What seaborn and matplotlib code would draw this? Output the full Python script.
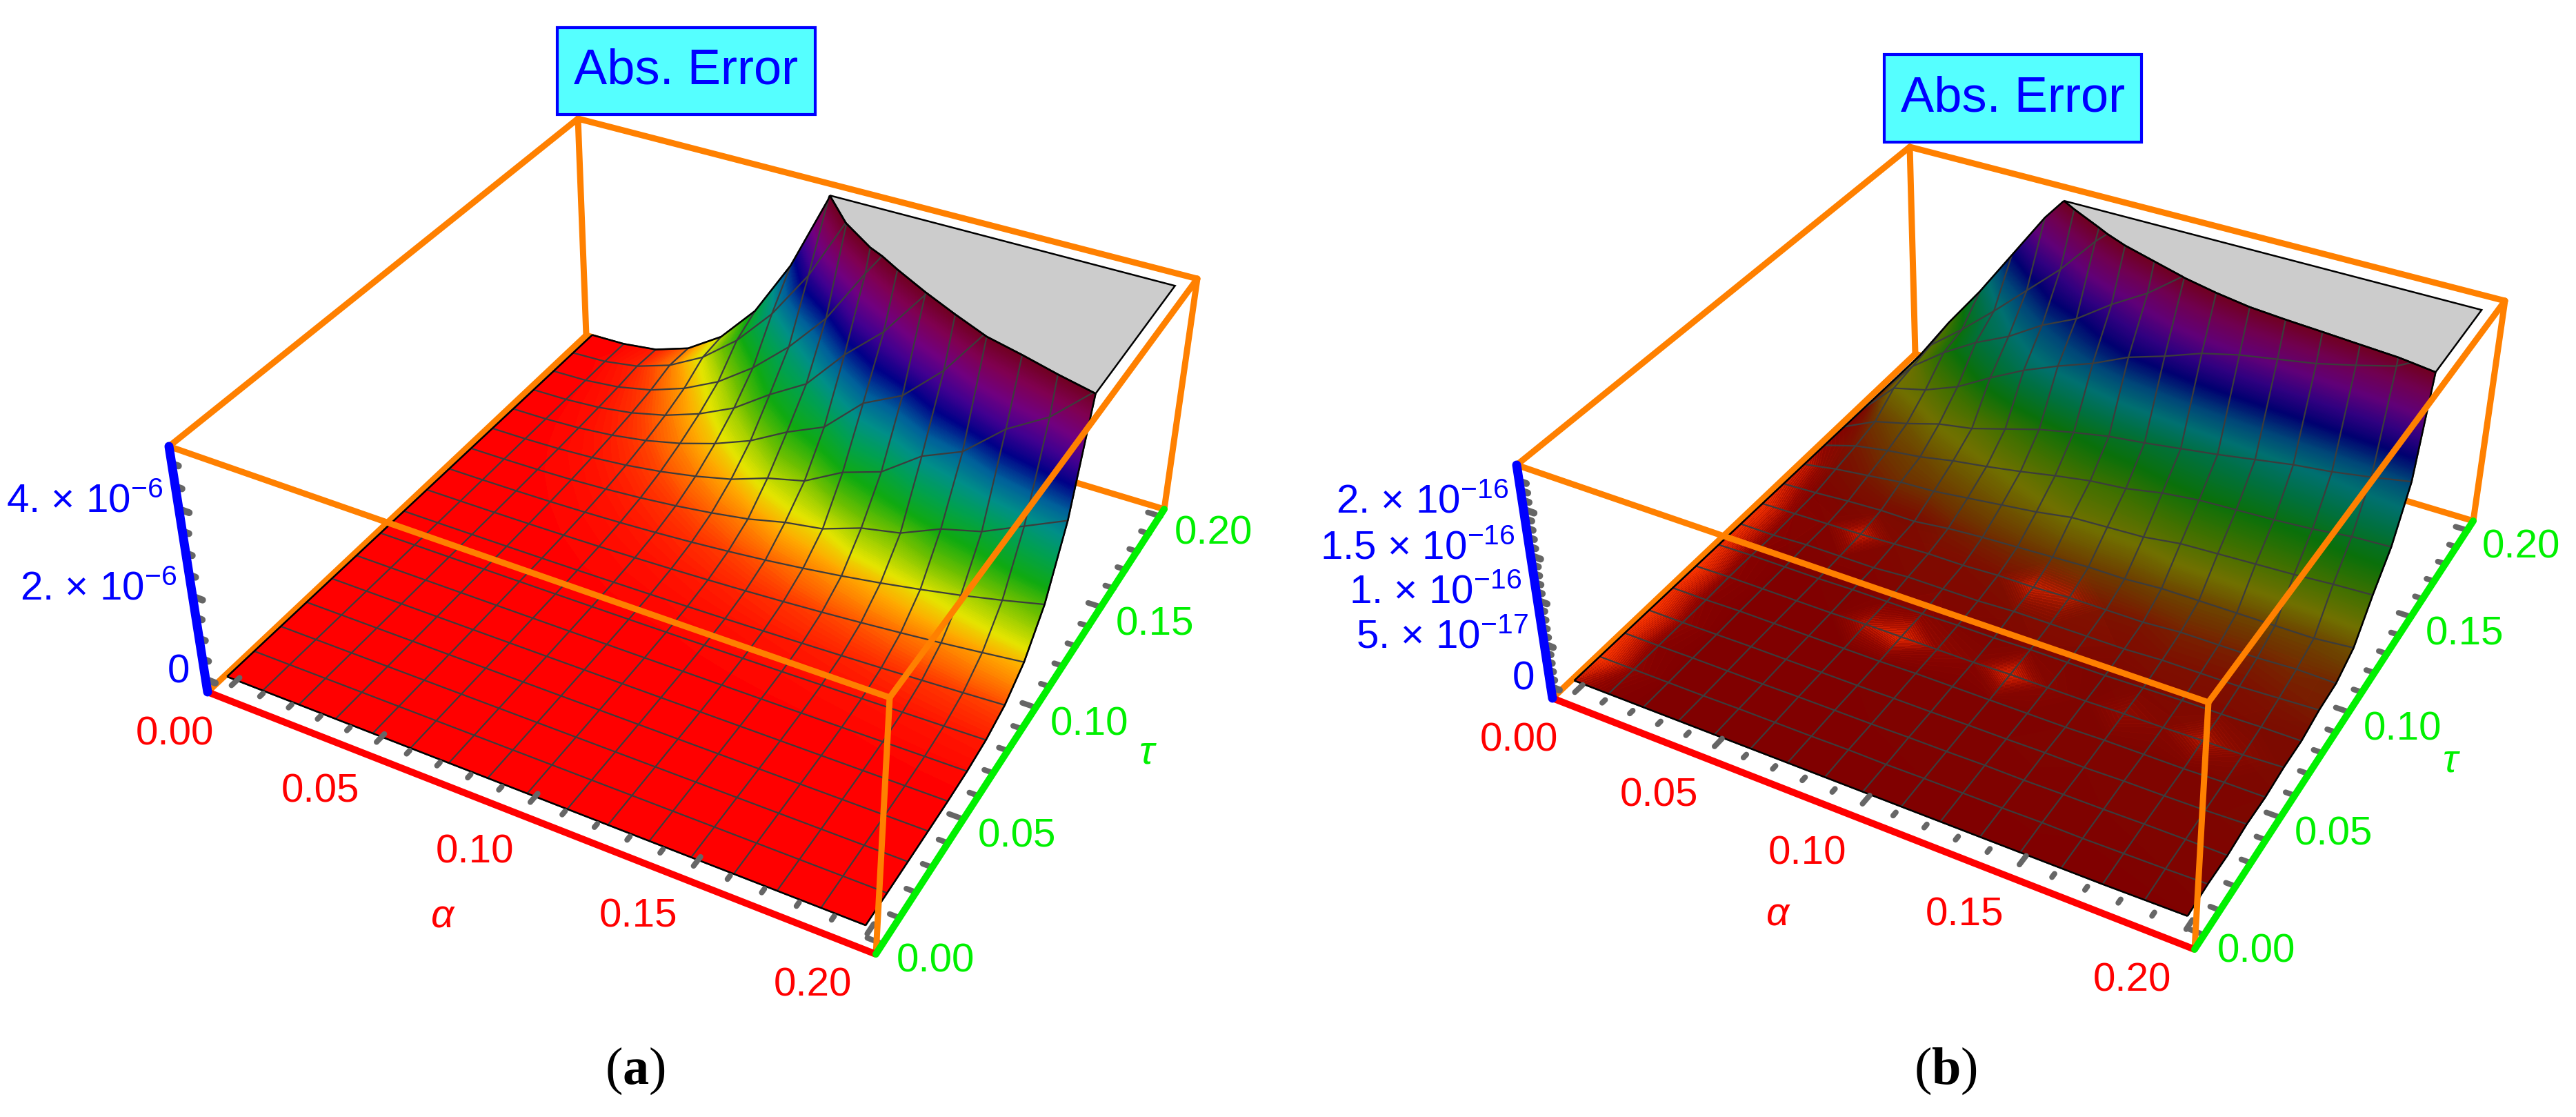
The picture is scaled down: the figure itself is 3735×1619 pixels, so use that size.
import numpy as np
import matplotlib
matplotlib.use("Agg")
import matplotlib.pyplot as plt
import seaborn as sns
from matplotlib.colors import LinearSegmentedColormap
from matplotlib.patches import Rectangle

# axis values (mesh has 16 cells each way)
alpha = np.arange(17) * 0.0125
tau = np.arange(17) * 0.0125

alpha_ticks = [0.00, 0.05, 0.10, 0.15, 0.20]
tau_ticks = [0.00, 0.05, 0.10, 0.15, 0.20]
alpha_labels = ["0.00", "0.05", "0.10", "0.15", "0.20"]
tau_labels = ["0.00", "0.05", "0.10", "0.15", "0.20"]

z_ticks_a = [0, 2, 4]
z_labels_a = ["0", "2. × 10$^{-6}$", "4. × 10$^{-6}$"]
z_ticks_b = [0, 0.5, 1, 1.5, 2]
z_labels_b = ["0", "5. × 10$^{-17}$", "1. × 10$^{-16}$", "1.5 × 10$^{-16}$", "2. × 10$^{-16}$"]

# abs. error read off the surfaces, rows = tau, columns = alpha
# panel a in units of 1e-6, the part above 5.2 leaves the box
error_a = np.array([
    [0, 0, 0, 0, 0, 0, 0, 0, 0, 0, 0, 0, 0, 0, 0, 0, 0],
    [0, 0, 0, 0, 0, 0, 0, 0, 0, 0, 0, 0, 0, 0, 0, 0, 0],
    [0, 0, 0, 0, 0, 0, 0, 0, 0, 0, 0, 0, 0, 0, 0, 0, 0],
    [0, 0, 0, 0, 0, 0, 0, 0, 0, 0, 0, 0, 0, 0, 0.001, 0.001, 0.002],
    [0, 0, 0, 0, 0, 0, 0, 0.001, 0.001, 0.002, 0.002, 0.003, 0.004, 0.005, 0.006, 0.008, 0.009],
    [0, 0, 0, 0.001, 0.001, 0.002, 0.003, 0.005, 0.006, 0.009, 0.011, 0.014, 0.018, 0.021, 0.026, 0.031, 0.036],
    [0, 0, 0.001, 0.002, 0.004, 0.006, 0.01, 0.014, 0.02, 0.027, 0.035, 0.045, 0.056, 0.068, 0.082, 0.097, 0.114],
    [0, 0, 0.002, 0.005, 0.009, 0.016, 0.026, 0.038, 0.053, 0.071, 0.093, 0.118, 0.146, 0.179, 0.215, 0.255, 0.30],
    [0, 0.001, 0.004, 0.011, 0.022, 0.038, 0.06, 0.089, 0.124, 0.166, 0.216, 0.274, 0.341, 0.417, 0.50, 0.596, 0.70],
    [0, 0.001, 0.008, 0.022, 0.046, 0.08, 0.127, 0.186, 0.26, 0.348, 0.454, 0.576, 0.716, 0.875, 1.05, 1.25, 1.47],
    [0, 0.003, 0.016, 0.043, 0.089, 0.156, 0.246, 0.362, 0.506, 0.72, 0.86, 1.18, 1.36, 1.76, 2.00, 2.43, 2.86],
    [0, 0.005, 0.029, 0.08, 0.164, 0.287, 0.452, 0.665, 0.98, 1.20, 1.70, 2.00, 2.66, 3.05, 3.85, 4.40, 5.25],
    [0, 0.008, 0.048, 0.133, 0.272, 0.477, 0.752, 1.105, 1.60, 2.00, 2.85, 3.30, 4.15, 5.3, 6.0, 7.44, 8.74],
    [0, 0.013, 0.073, 0.2, 0.41, 0.72, 1.14, 1.75, 2.28, 3.25, 4.05, 5.15, 6.45, 7.9, 9.5, 11.3, 13.3],
    [0, 0.019, 0.107, 0.294, 0.603, 1.04, 1.66, 2.44, 3.39, 4.7, 5.91, 7.5, 9.3, 11, 13, 15, 17],
    [0, 0.029, 0.163, 0.448, 0.92, 1.61, 2.53, 3.72, 5.25, 6.97, 9.1, 11, 14, 17, 20, 23, 26],
    [0, 0.015, 0.12, 0.41, 0.97, 1.89, 3.27, 5.1, 7.8, 11, 14, 18, 22, 26, 30, 35, 40],
])

# panel b in units of 1e-16, the part above 2.4 leaves the box
error_b = np.array([
    [0, 0, 0, 0, 0, 0, 0, 0, 0, 0, 0, 0, 0, 0, 0, 0.005, 0.01],
    [0, 0, 0, 0, 0.005, 0.005, 0.005, 0.01, 0.005, 0.01, 0.01, 0.01, 0.015, 0.01, 0.015, 0.02, 0.03],
    [0, 0, 0.005, 0.005, 0.005, 0.01, 0.01, 0.01, 0.015, 0.015, 0.02, 0.015, 0.02, 0.02, 0.025, 0.025, 0.02],
    [0, 0, 0.005, 0.01, 0.01, 0.01, 0.01, 0.015, 0.015, 0.02, 0.02, 0.025, 0.02, 0.03, 0.03, 0.035, 0.05],
    [0, 0, 0.01, 0.01, 0.01, 0.01, 0.01, 0.02, 0.02, 0.02, 0.02, 0.02, 0.03, 0.03, 0.03, 0.04, 0.04],
    [0, 0.01, 0.01, 0.01, 0.01, 0.02, 0.02, 0.02, 0.02, 0.03, 0.03, 0.03, 0.04, 0.04, 0.05, 0.05, 0.07],
    [0, 0.01, 0.01, 0.01, 0.02, 0.02, 0.02, 0.03, 0.03, 0.04, 0.04, 0.04, 0.05, 0.06, 0.06, 0.07, 0.07],
    [0, 0, 0.02, 0.02, 0.02, 0.05, 0.05, 0.05, 0.07, 0.07, 0.07, 0.07, 0.09, 0.09, 0.09, 0.11, 0.13],
    [0, 0.01, 0.02, 0.03, 0.05, 0.07, 0.07, 0.09, 0.09, 0.11, 0.11, 0.11, 0.14, 0.14, 0.14, 0.16, 0.15],
    [0, 0.02, 0.05, 0.07, 0.07, 0.12, 0.15, 0.17, 0.19, 0.21, 0.21, 0.24, 0.24, 0.24, 0.24, 0.24, 0.28],
    [0, 0.07, 0.12, 0.17, 0.19, 0.24, 0.29, 0.34, 0.41, 0.43, 0.45, 0.51, 0.53, 0.55, 0.57, 0.60, 0.62],
    [0, 0.12, 0.19, 0.24, 0.32, 0.38, 0.45, 0.53, 0.60, 0.64, 0.72, 0.77, 0.79, 0.81, 0.84, 0.89, 0.91],
    [0, 0.19, 0.29, 0.41, 0.48, 0.60, 0.72, 0.81, 0.89, 0.94, 1.00, 1.06, 1.13, 1.20, 1.25, 1.32, 1.40],
    [0, 0.38, 0.48, 0.64, 0.87, 1.08, 1.25, 1.40, 1.59, 1.72, 1.87, 1.97, 2.04, 2.11, 2.21, 2.32, 2.55],
    [0, 0.43, 0.72, 0.96, 1.15, 1.40, 1.59, 1.87, 2.11, 2.42, 2.64, 2.9, 3.1, 3.3, 3.5, 3.7, 3.9],
    [0, 0.48, 0.79, 1.13, 1.49, 1.85, 2.28, 2.64, 3.0, 3.3, 3.6, 3.9, 4.2, 4.5, 4.8, 5.1, 5.4],
    [0, 0.55, 1.05, 1.60, 2.15, 2.60, 2.9, 3.2, 3.5, 3.8, 4.0, 4.2, 4.4, 4.6, 4.8, 5.0, 5.2],
])

# bright patches on the floor of panel b (0 = none, 1 = strongest)
glare_b = np.array([
    [0.5, 0.1, 0, 0, 0, 0, 0, 0, 0, 0, 0, 0, 0, 0, 0, 0, 0],
    [1.0, 0.25, 0, 0, 0, 0, 0, 0, 0, 0, 0, 0, 0, 0, 0, 0, 0],
    [0.9, 0.15, 0, 0, 0, 0, 0, 0, 0, 0, 0, 0, 0, 0, 0, 0, 0],
    [1.0, 0.25, 0, 0, 0, 0, 0, 0, 0, 0, 0, 0, 0, 0, 0, 0, 0],
    [0.9, 0.15, 0, 0, 0, 0, 0, 0, 0, 0, 0, 0, 0, 0, 0, 0, 0],
    [1.0, 0.2, 0, 0, 0, 0.5, 0.75, 0.3, 0.15, 0.7, 0.15, 0, 0.3, 0.15, 0.5, 0.2, 0],
    [0.9, 0.15, 0, 0, 0, 0.1, 0.2, 0.05, 0, 0.1, 0.05, 0, 0.05, 0.05, 0.1, 0, 0],
    [0.9, 0.2, 0.05, 0.1, 0.1, 0.1, 0.1, 0.1, 0.1, 0.15, 0.15, 0.1, 0.1, 0.1, 0.1, 0.1, 0.05],
    [0.9, 0.15, 0.1, 0.6, 0.1, 0.1, 0.1, 0.1, 0.6, 0.5, 0.1, 0.1, 0.1, 0.1, 0.1, 0.1, 0.05],
    [0.7, 0.05, 0, 0, 0, 0, 0, 0, 0, 0, 0, 0, 0, 0, 0, 0, 0],
    [0.6, 0, 0, 0, 0, 0, 0, 0, 0, 0, 0, 0, 0, 0, 0, 0, 0],
    [0.3, 0, 0, 0, 0, 0, 0, 0, 0, 0, 0, 0, 0, 0, 0, 0, 0],
    [0.1, 0, 0, 0, 0, 0, 0, 0, 0, 0, 0, 0, 0, 0, 0, 0, 0],
    [0, 0, 0, 0, 0, 0, 0, 0, 0, 0, 0, 0, 0, 0, 0, 0, 0],
    [0, 0, 0, 0, 0, 0, 0, 0, 0, 0, 0, 0, 0, 0, 0, 0, 0],
    [0, 0, 0, 0, 0, 0, 0, 0, 0, 0, 0, 0, 0, 0, 0, 0, 0],
    [0, 0, 0, 0, 0, 0, 0, 0, 0, 0, 0, 0, 0, 0, 0, 0, 0],
])

ORANGE = "#ff8000"
RED = "#ff0000"
GREEN = "#00f000"
BLUE = "#0000ff"
TICK_GREY = "#666666"
MESH = "#3c3c3c"

hue_stops = [0, 0.04, 0.08, 0.12, 0.167, 0.25, 0.33, 0.42, 0.5, 0.58, 0.67, 0.75, 0.83, 0.92, 1]
colors_a = ["#ff0000", "#ff3000", "#ff7000", "#ffa800", "#e4e400", "#70c000", "#10aa10", "#00a050",
            "#008f88", "#00609a", "#000088", "#400090", "#700080", "#800050", "#700020"]
colors_b = ["#800000", "#7a1000", "#6e3600", "#6e5200", "#707000", "#3f7000", "#0a700a", "#007040",
            "#007070", "#004878", "#000070", "#300080", "#600078", "#700050", "#700020"]
cmap_a = LinearSegmentedColormap.from_list("hue_a", list(zip(hue_stops, colors_a)), N=512)
cmap_b = LinearSegmentedColormap.from_list("hue_b", list(zip(hue_stops, colors_b)), N=512)
cmap_glare = LinearSegmentedColormap.from_list(
    "glare", [(0, (0.95, 0.15, 0, 0)), (0.3, (0.95, 0.15, 0, 0.12)), (1, (1, 0.22, 0, 0.95))], N=64)

# box corner order: (u, v, w) unit cube
UNIT_CORNERS = [(0, 0, 0), (1, 0, 0), (1, 1, 0), (0, 1, 0), (0, 0, 1), (1, 0, 1), (1, 1, 1), (0, 1, 1)]
PAD_U = 0.023


def fit_camera(corners):
    rows = []
    for (u, v, w), (x, y) in zip(UNIT_CORNERS, corners):
        x, y = x / 1000, y / 1000
        rows.append([u, v, w, 1, 0, 0, 0, 0, -x * u, -x * v, -x * w, -x])
        rows.append([0, 0, 0, 0, u, v, w, 1, -y * u, -y * v, -y * w, -y])
    return np.linalg.svd(np.array(rows))[2][-1].reshape(3, 4)


def edge(ax, points, color, width, order, cap="round"):
    # width given in px of the final picture
    pts = np.array(points)
    sns.lineplot(x=pts[:, 0], y=pts[:, 1], sort=False, estimator=None, color=color,
                 linewidth=width * 0.72, zorder=order, solid_capstyle=cap, ax=ax, legend=False)


def draw_panel(ax, corners, error, cmap, z_top, w0, pad_v, z_ticks, z_labels, z_minor, title_box, caption,
               caption_x, alpha_off, tau_off, glare=None):
    cam = fit_camera(corners)
    w1 = 0.975

    def to_box(a, t, z):
        u = PAD_U + (1 - 2 * PAD_U) * np.asarray(a, float) / 0.2
        v = pad_v + (1 - 2 * pad_v) * np.asarray(t, float) / 0.2
        w = w0 + (w1 - w0) * np.asarray(z, float) / z_top
        return u, v, w

    def from_box(u, v, w):
        u, v, w = np.broadcast_arrays(u, v, w)
        h = cam @ np.stack([u.ravel(), v.ravel(), w.ravel(), np.ones(u.size)])
        return (h[0] / h[2] * 1000).reshape(u.shape), (h[1] / h[2] * 1000).reshape(u.shape)

    def project(a, t, z):
        return from_box(*to_box(a, t, z))

    def mesh_line(a, t, z, color, lw, order):
        # stop the line where it reaches the top of the box
        a, t, z = [np.broadcast_to(q, (17,)).astype(float) for q in (a, t, z)]
        n = 17
        for k in range(1, 17):
            if z[k] > z_top:
                f = (z_top - z[k - 1]) / (z[k] - z[k - 1])
                a[k] = a[k - 1] + f * (a[k] - a[k - 1])
                t[k] = t[k - 1] + f * (t[k] - t[k - 1])
                z[k] = z_top
                n = k + 1
                break
        x, y = project(a[:n], t[:n], z[:n])
        ax.plot(x, y, color=color, lw=lw, zorder=order, solid_capstyle="butt")

    A, T = np.meshgrid(alpha, tau)
    X, Y = project(A, T, error)

    c = dict(zip("ABCDEFGH", np.array(corners, float)))
    # box edges behind the surface
    for p, q in ["HE", "HG", "HD", "DA", "DC"]:
        edge(ax, [c[p], c[q]], ORANGE, 9, 2)

    levels = np.linspace(0, z_top, 241)
    levels[0] = -z_top * 0.01
    ax.contourf(X, Y, error, levels=levels, cmap=cmap, vmin=0, vmax=z_top, antialiased=False, zorder=3)
    if glare is not None:
        ax.contourf(X, Y, glare, levels=np.linspace(0.03, 1, 25), cmap=cmap_glare, vmin=0, vmax=1,
                    antialiased=False, zorder=3.1)

    for k in range(17):
        mesh_line(alpha, tau[k], error[k, :], MESH, 1.6, 3.2)
        mesh_line(alpha[k], tau, error[:, k], MESH, 1.6, 3.2)

    # grey cap where the surface leaves the box
    ridge = ax.contour(X, Y, error, levels=[z_top], colors="black", linewidths=1.8, zorder=3.4)
    rim = max(ridge.get_paths()[0].to_polygons(closed_only=False), key=len)
    corner = np.column_stack(project(0.2, 0.2, z_top))
    cap = np.vstack([rim, corner])
    ax.fill(cap[:, 0], cap[:, 1], fc="#cccccc", ec="black", lw=1.8, zorder=3.3)

    mesh_line(alpha, tau[0], error[0, :], "black", 1.8, 3.4)
    mesh_line(alpha, tau[-1], error[-1, :], "black", 1.8, 3.4)
    mesh_line(alpha[0], tau, error[:, 0], "black", 1.8, 3.4)
    mesh_line(alpha[-1], tau, error[:, -1], "black", 1.8, 3.4)

    # box edges in front of the surface
    for p, q in ["EF", "FG", "FB", "GC"]:
        edge(ax, [c[p], c[q]], ORANGE, 9, 5)

    # tick marks
    for val in np.arange(0, 21) * 0.01:
        major = (round(val * 100) % 5) == 0
        u = to_box(val, 0, 0)[0]
        p = np.column_stack(from_box([u, u], [0.024, 0.042 if major else 0.031], [0, 0]))
        edge(ax, p, TICK_GREY, 8, 4)
        v = to_box(0, val, 0)[1]
        p = np.column_stack(from_box([1, 0.98 if major else 0.987], [v, v], [0, 0]))
        edge(ax, p, TICK_GREY, 8, 4)
    for val in z_minor:
        major = val in z_ticks
        w = to_box(0, 0, val)[2]
        p = np.column_stack(from_box([0, 0.017 if major else 0.011], [0, 0], [w, w]))
        edge(ax, p, TICK_GREY, 10, 4)

    # coloured axes
    edge(ax, [c["A"], c["B"]], RED, 10, 6, "butt")
    edge(ax, [c["B"], c["C"]], GREEN, 10, 6.1)
    edge(ax, [c["A"], c["E"]], BLUE, 13, 6.2)

    # tick labels
    font = {"fontsize": 42, "family": "Liberation Sans"}
    for val, lab in zip(alpha_ticks, alpha_labels):
        x, y = from_box(to_box(val, 0, 0)[0], 0, 0)
        ax.text(x - 66, y + 56, lab, color=RED, ha="center", va="center", **font)
    for val, lab in zip(tau_ticks, tau_labels):
        x, y = from_box(1, to_box(0, val, 0)[1], 0)
        ax.text(x + 77, y + 25, lab, color=GREEN, ha="center", va="center", **font)
    for val, lab in zip(z_ticks, z_labels):
        x, y = from_box(0, 0, to_box(0, 0, val)[2])
        ax.text(x - 22, y + 5, lab, color=BLUE, ha="right", va="baseline", **font)

    x, y = from_box(to_box(0.1, 0, 0)[0], 0, 0)
    ax.text(x + alpha_off[0], y + alpha_off[1], "α", color=RED, style="italic", ha="center", va="center", **font)
    x, y = from_box(1, to_box(0, 0.1, 0)[1], 0)
    ax.text(x + tau_off[0], y + tau_off[1], "τ", color=GREEN, style="italic", ha="center", va="center", **font)

    # title tag
    bx, by, bw, bh = title_box
    ax.add_patch(Rectangle((bx, by), bw, bh, fc="#55ffff", ec=BLUE, lw=3, zorder=7))
    ax.text(bx + bw / 2, by + bh / 2, "Abs. Error", color=BLUE, fontsize=52, family="Liberation Sans",
            ha="center", va="center", zorder=8)

    ax.text(caption_x, 1552, caption, fontsize=55, family="Liberation Serif", ha="center", va="center", color="black")


sns.set_theme(style="white")
plt.rcParams["mathtext.fontset"] = "custom"
plt.rcParams["mathtext.bf"] = "Liberation Serif:bold"
plt.rcParams["mathtext.rm"] = "Liberation Sans"
plt.rcParams["mathtext.default"] = "regular"

fig = plt.figure(figsize=(37.35, 16.19), dpi=100)
ax = fig.add_axes([0, 0, 1, 1])

corners_a = [(301, 1003), (1270, 1383), (1688, 738), (850, 486), (245, 647), (1290, 1011), (1736, 404), (838, 172)]
corners_b = [(2251, 1012), (3182, 1376), (3586, 755), (2777, 513), (2199, 674), (3202, 1018), (3632, 436), (2769, 213)]

draw_panel(ax, corners_a, error_a, cmap_a, 5.2, 0.05, 0.018, z_ticks_a, z_labels_a, np.arange(0, 11) * 0.5,
           (808, 40, 374, 126), r"($\mathbf{a}$)", 921, (-113, 150), (160, 66))
draw_panel(ax, corners_b, error_b, cmap_b, 2.4, 0.05, 0.026, z_ticks_b, z_labels_b, np.round(np.arange(0, 24) * 0.1, 1),
           (2732, 79, 373, 127), r"($\mathbf{b}$)", 2821, (-109, 145), (147, 71), glare=glare_b)

ax.set_xlim(0, 3735)
ax.set_ylim(1619, 0)
ax.set_axis_off()
fig.savefig("out.png", dpi=100, facecolor="white")
